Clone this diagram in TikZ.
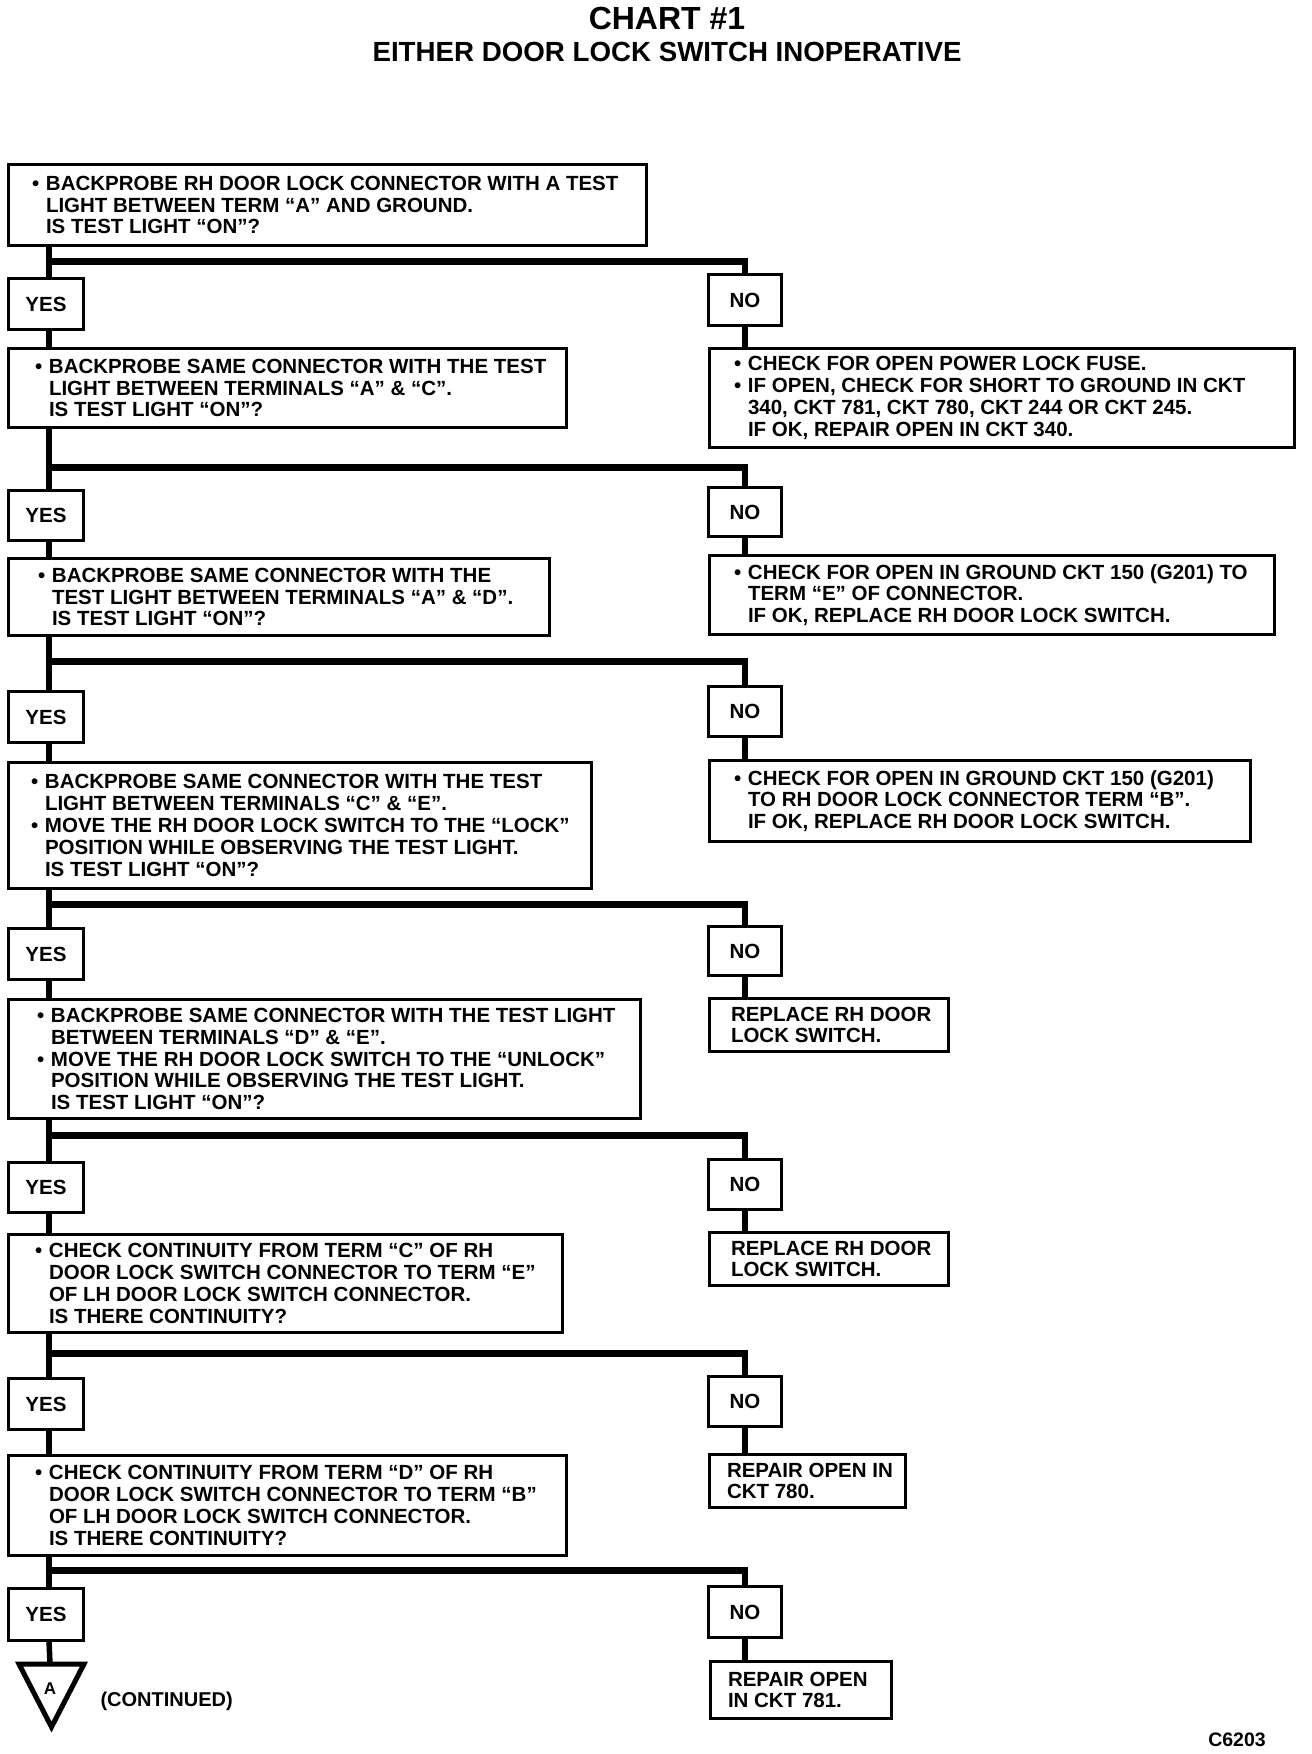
\documentclass[tikz,border=0pt]{standalone}
\usepackage{fontspec}
\setmainfont{Liberation Sans}
\usetikzlibrary{calc}
\newcommand\bodyfont{\fontsize{20.5}{21.8}\selectfont\bfseries}
\newcommand\bl{\makebox[14pt][l]{•}}
\newcommand\ind{\hspace*{14pt}}
\tikzset{
  boxst/.style={draw, line width=3.2pt, inner sep=0pt, outer sep=0pt, font=\bodyfont},
  txt/.style={align=left, inner sep=0pt, outer sep=0pt, font=\bodyfont, anchor=west},
  vline/.style={line width=5.5pt},
  hbar/.style={line width=7pt},
}
\newcommand\mkbox[6]{\node[boxst, anchor=north west, minimum width={#4-#2-3.2}, minimum height={#5-#3-3.2}] (#1) at ({#2+1.6},{#3+1.6}) {#6};}
% #1 Q, #2 Y, #3 N, #4 bar coordinate, #5 next Q, #6 right box
\newcommand\branch[6]{%
  \draw[vline] ([xshift=3pt]#1.south -| #2.north) -- ([xshift=3pt]#2.north);
  \draw[hbar] ([xshift=3pt]#2.north |- #4) -- ([xshift=2.75pt]#4 -| #3.north);
  \draw[vline] (#4 -| #3.north) -- (#3.north);
  \draw[vline] ([xshift=3pt]#2.south) -- ([xshift=3pt]#5.north -| #2.south);
  \draw[vline] (#3.south) -- (#6.north -| #3.south);
}
\begin{document}
\begin{tikzpicture}[x=1pt,y=-1pt]
\useasboundingbox (0,0) rectangle (1312,1754);
\node[font=\fontsize{32}{36}\selectfont\bfseries, anchor=base] (title) at (667,29) {CHART \#1};
\node[font=\fontsize{27.7}{30}\selectfont\bfseries, anchor=base] (subtitle) at (667,61) {EITHER DOOR LOCK SWITCH INOPERATIVE};

% left question boxes
\mkbox{q1}{7}{163}{648}{247}{}
\node[txt] (q1t) at ([xshift=23.4pt]q1.west) {\bl BACKPROBE RH DOOR LOCK CONNECTOR WITH A TEST\\\ind LIGHT BETWEEN TERM “A” AND GROUND.\\\ind IS TEST LIGHT “ON”?};
\mkbox{q2}{7}{347}{568}{429}{}
\node[txt] (q2t) at ([xshift=26.4pt]q2.west) {\bl BACKPROBE SAME CONNECTOR WITH THE TEST\\\ind LIGHT BETWEEN TERMINALS “A” \& “C”.\\\ind IS TEST LIGHT “ON”?};
\mkbox{q3}{7}{557}{551}{637}{}
\node[txt] (q3t) at ([xshift=29.4pt]q3.west) {\bl BACKPROBE SAME CONNECTOR WITH THE\\\ind TEST LIGHT BETWEEN TERMINALS “A” \& “D”.\\\ind IS TEST LIGHT “ON”?};
\mkbox{q4}{7}{761}{593}{890}{}
\node[txt] (q4t) at ([xshift=22.4pt]q4.west) {\bl BACKPROBE SAME CONNECTOR WITH THE TEST\\\ind LIGHT BETWEEN TERMINALS “C” \& “E”.\\\bl MOVE THE RH DOOR LOCK SWITCH TO THE “LOCK”\\\ind POSITION WHILE OBSERVING THE TEST LIGHT.\\\ind IS TEST LIGHT “ON”?};
\mkbox{q5}{7}{998}{642}{1120}{}
\node[txt] (q5t) at ([xshift=28.4pt]q5.west) {\bl BACKPROBE SAME CONNECTOR WITH THE TEST LIGHT\\\ind BETWEEN TERMINALS “D” \& “E”.\\\bl MOVE THE RH DOOR LOCK SWITCH TO THE “UNLOCK”\\\ind POSITION WHILE OBSERVING THE TEST LIGHT.\\\ind IS TEST LIGHT “ON”?};
\mkbox{q6}{7}{1233}{564}{1334}{}
\node[txt] (q6t) at ([xshift=26.4pt]q6.west) {\bl CHECK CONTINUITY FROM TERM “C” OF RH\\\ind DOOR LOCK SWITCH CONNECTOR TO TERM “E”\\\ind OF LH DOOR LOCK SWITCH CONNECTOR.\\\ind IS THERE CONTINUITY?};
\mkbox{q7}{7}{1454}{568}{1557}{}
\node[txt] (q7t) at ([xshift=26.4pt]q7.west) {\bl CHECK CONTINUITY FROM TERM “D” OF RH\\\ind DOOR LOCK SWITCH CONNECTOR TO TERM “B”\\\ind OF LH DOOR LOCK SWITCH CONNECTOR.\\\ind IS THERE CONTINUITY?};

% right result boxes
\mkbox{r1}{708}{347}{1296}{449}{}
\node[txt] (r1t) at ([xshift=24.4pt]r1.west) {\bl CHECK FOR OPEN POWER LOCK FUSE.\\\bl IF OPEN, CHECK FOR SHORT TO GROUND IN CKT\\\ind 340, CKT 781, CKT 780, CKT 244 OR CKT 245.\\\ind IF OK, REPAIR OPEN IN CKT 340.};
\mkbox{r2}{708}{554}{1276}{636}{}
\node[txt] (r2t) at ([xshift=24.4pt]r2.west) {\bl CHECK FOR OPEN IN GROUND CKT 150 (G201) TO\\\ind TERM “E” OF CONNECTOR.\\\ind IF OK, REPLACE RH DOOR LOCK SWITCH.};
\mkbox{r3}{708}{759}{1252}{843}{}
\node[txt] (r3t) at ([xshift=24.4pt]r3.west) {\bl CHECK FOR OPEN IN GROUND CKT 150 (G201)\\\ind TO RH DOOR LOCK CONNECTOR TERM “B”.\\\ind IF OK, REPLACE RH DOOR LOCK SWITCH.};
\mkbox{r4}{708}{997}{950}{1053}{}
\node[txt] (r4t) at ([xshift=21.4pt]r4.west) {REPLACE RH DOOR\\LOCK SWITCH.};
\mkbox{r5}{708}{1231}{950}{1287}{}
\node[txt] (r5t) at ([xshift=21.4pt]r5.west) {REPLACE RH DOOR\\LOCK SWITCH.};
\mkbox{r6}{708}{1453}{907}{1509}{}
\node[txt] (r6t) at ([xshift=17.4pt]r6.west) {REPAIR OPEN IN\\CKT 780.};
\mkbox{r7}{709}{1660}{893}{1720}{}
\node[txt] (r7t) at ([xshift=17.4pt]r7.west) {REPAIR OPEN\\IN CKT 781.};

% YES / NO boxes
\mkbox{y1}{7}{277}{85}{331}{YES}
\mkbox{n1}{707}{273}{783}{327}{NO}
\mkbox{y2}{7}{489}{85}{542}{YES}
\mkbox{n2}{707}{486}{783}{538}{NO}
\mkbox{y3}{7}{690}{85}{744}{YES}
\mkbox{n3}{707}{685}{783}{738}{NO}
\mkbox{y4}{7}{927}{85}{981}{YES}
\mkbox{n4}{707}{925}{783}{977}{NO}
\mkbox{y5}{7}{1161}{85}{1214}{YES}
\mkbox{n5}{707}{1158}{783}{1211}{NO}
\mkbox{y6}{7}{1377}{85}{1431}{YES}
\mkbox{n6}{707}{1375}{783}{1428}{NO}
\mkbox{y7}{7}{1587}{85}{1642}{YES}
\mkbox{n7}{707}{1585}{783}{1639}{NO}

% bar levels
\coordinate (b1) at (0,261);
\coordinate (b2) at (0,467);
\coordinate (b3) at (0,661);
\coordinate (b4) at (0,904);
\coordinate (b5) at (0,1135);
\coordinate (b6) at (0,1353);
\coordinate (b7) at (0,1570);

% continuation triangle
\coordinate (tri) at (50,1664);
\draw[line width=5pt, line join=miter] (19,1664) -- (84,1664) -- (51.5,1727) -- cycle;
\node[font=\fontsize{17}{20}\selectfont\bfseries] (triA) at (50,1689) {A};
\node[font=\fontsize{20}{24}\selectfont\bfseries, anchor=west] (cont) at (97,1701) {(CONTINUED)};
\node[font=\fontsize{19.5}{24}\selectfont\bfseries, anchor=base] (code) at (1237,1746) {C6203};

\branch{q1}{y1}{n1}{b1}{q2}{r1}
\branch{q2}{y2}{n2}{b2}{q3}{r2}
\branch{q3}{y3}{n3}{b3}{q4}{r3}
\branch{q4}{y4}{n4}{b4}{q5}{r4}
\branch{q5}{y5}{n5}{b5}{q6}{r5}
\branch{q6}{y6}{n6}{b6}{q7}{r6}
% last branch ends in the triangle
\draw[vline] ([xshift=3pt]q7.south -| y7.north) -- ([xshift=3pt]y7.north);
\draw[hbar] ([xshift=3pt]y7.north |- b7) -- ([xshift=2.75pt]b7 -| n7.north);
\draw[vline] (b7 -| n7.north) -- (n7.north);
\draw[vline] ([xshift=3pt]y7.south) -- (tri);
\draw[vline] (n7.south) -- (r7.north -| n7.south);
\end{tikzpicture}
\end{document}
